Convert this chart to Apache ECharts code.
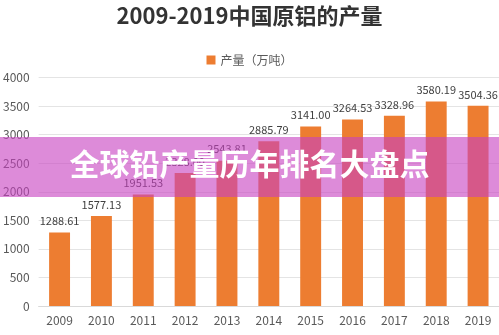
<!DOCTYPE html>
<html><head><meta charset="utf-8">
<script src="https://cdn.jsdelivr.net/npm/echarts@6/dist/echarts.min.js"></script>
<style>html,body{margin:0;padding:0;background:#fff}#c{width:499px;height:335px}</style>
</head><body><div id="c"></div>
<script>
var categories = ['2009','2010','2011','2012','2013','2014','2015','2016','2017','2018','2019'];
var production = [1288.61,1577.13,1951.53,2328.00,2543.81,2885.79,3141.00,3264.53,3328.96,3580.19,3504.36];
var titleText = '2009-2019中国原铝的产量';
var seriesName = '产量（万吨）';
var bannerText = '全球铅产量历年排名大盘点';
var FONT = '"Noto Sans CJK SC","Noto Sans",sans-serif';
var chart = echarts.init(document.getElementById('c'), null, {renderer:'canvas'});
chart.setOption({
  animation:false,
  textStyle:{fontFamily:FONT},
  title:{text:titleText,left:'center',top:0,textStyle:{fontSize:22,fontWeight:'bold',color:'#333',fontFamily:FONT}},
  legend:{top:49,left:'center',itemWidth:9,itemHeight:9,itemGap:4,icon:'rect',
    textStyle:{fontSize:12,color:'#595959',fontFamily:FONT},data:[seriesName]},
  grid:{left:37,right:0,top:77.5,bottom:29,containLabel:false},
  xAxis:{type:'category',data:categories,
    axisLine:{lineStyle:{color:'#d9d9d9'}},axisTick:{show:false},
    axisLabel:{color:'#595959',fontSize:12,margin:8,fontFamily:FONT}},
  yAxis:{type:'value',min:0,max:4000,interval:500,
    axisLine:{show:false},axisTick:{show:false},
    axisLabel:{color:'#595959',fontSize:12,margin:9,fontFamily:FONT,formatter:function(v){return String(v);}},
    splitLine:{lineStyle:{color:'#e4e4e4'}}},
  series:[{name:seriesName,type:'bar',data:production,barWidth:'50%',
    itemStyle:{color:'#ED7D31'},
    label:{show:true,position:'top',distance:6,color:'#404040',fontSize:11,fontFamily:FONT,
      formatter:function(p){return p.value.toFixed(2);}}}],
  graphic:[
    {type:'rect',left:0,top:137,z:100,shape:{width:499,height:60},style:{fill:'rgba(199,66,193,0.61)'}},
    {type:'text',left:'center',top:149,z:101,style:{text:bannerText,fill:'#fff',font:'bold 30px '+FONT}}
  ]
});
</script></body></html>
